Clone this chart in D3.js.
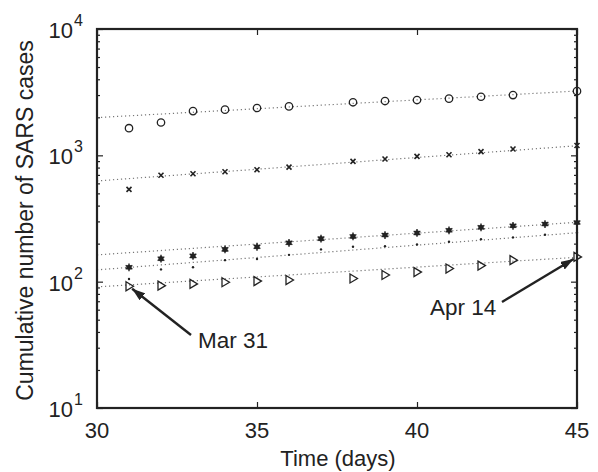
<!DOCTYPE html>
<html>
<head>
<meta charset="utf-8">
<script src="https://cdn.jsdelivr.net/npm/d3@7"></script>
<style>
body{margin:0;background:#fff;}
text{font-family:"Liberation Sans",Arial,sans-serif;fill:#222;}
</style>
</head>
<body>
<svg id="chart" width="598" height="472"></svg>
<script>
// days (x) and cumulative cases (y)
let daysA=[31,32,33,34,35,36,38,39,40,41,42,43,45]
let daysB=[31,32,33,34,35,36,37,38,39,40,41,42,43,44,45]
let circleVals=[1640,1820,2240,2300,2370,2440,2630,2690,2740,2810,2910,3000,3220]
let crossVals=[538,695,715,741,769,807,896,935,982,1011,1069,1122,1195]
let starVals=[130,152,160,180,189,203,219,228,234,243,255,269,277,286,294]
let dotVals=[105,125,130,148,151,163,180,189,191,197,207,217,224,235,244]
let triVals=[92,93,96,99,101,103,106,113,119,127,134,148,157]
// fitted lines, value at day 30 and at day 45
let fitDays=[30,45]
let circleFit=[1990,3228]
let crossFit=[627,1191]
let starFit=[163,295]
let dotFit=[124,244]
let triFit=[91,156]
let xTicks=[30,35,40,45]
let yTicks=[10,100,1000,10000]

let svg=d3.select("#chart")
let pLeft=97,pRight=577,pTop=29,pBottom=408

let x=d3.scaleLinear().domain([30,45]).range([pLeft,pRight])
let y=d3.scaleLog().domain([10,10000]).range([pBottom,pTop])

let minor=[]
for(let d=10;d<10000;d*=10) for(let k=2;k<10;k++) minor.push(d*k)

// ticks, all on the inside
let ax=svg.append("g").attr("class","axes")
ax.append("g").attr("transform","translate(0,"+pBottom+")")
	.call(d3.axisBottom(x).tickValues(xTicks).tickSize(-6).tickFormat(""))
ax.append("g").attr("transform","translate(0,"+pTop+")")
	.call(d3.axisTop(x).tickValues(xTicks).tickSize(-6).tickFormat(""))
ax.append("g").attr("transform","translate("+pLeft+",0)")
	.call(d3.axisLeft(y).tickValues(yTicks).tickSize(-6).tickFormat(""))
ax.append("g").attr("transform","translate("+pLeft+",0)")
	.call(d3.axisLeft(y).tickValues(minor).tickSize(-3).tickFormat(""))
ax.append("g").attr("transform","translate("+pRight+",0)")
	.call(d3.axisRight(y).tickValues(yTicks).tickSize(-6).tickFormat(""))
ax.append("g").attr("transform","translate("+pRight+",0)")
	.call(d3.axisRight(y).tickValues(minor).tickSize(-3).tickFormat(""))
ax.selectAll(".domain").remove()
ax.selectAll("line").attr("stroke","#222").attr("stroke-width",1.2)

// fit lines
let fits=[circleFit,crossFit,starFit,dotFit,triFit]
let line=d3.line().x((d,i)=>x(fitDays[i])).y(d=>y(d))
svg.selectAll(".fit")
	.data(fits)
	.enter().append("path")
	.attr("class","fit")
	.attr("d",d=>line(d))
	.attr("fill","none")
	.attr("stroke","#777")
	.attr("stroke-width",1.2)
	.attr("stroke-dasharray","1.2,2.8")

function pts(days,vals){return days.map((d,i)=>[d,vals[i]])}

svg.selectAll(".circ").data(pts(daysA,circleVals)).enter().append("circle")
	.attr("cx",d=>x(d[0])).attr("cy",d=>y(d[1])).attr("r",3.7)
	.attr("fill","none").attr("stroke","#222").attr("stroke-width",1.3)

svg.selectAll(".cross").data(pts(daysA,crossVals)).enter().append("path")
	.attr("transform",d=>"translate("+x(d[0])+","+y(d[1])+")")
	.attr("d","M-2.5,-2.5L2.5,2.5M-2.5,2.5L2.5,-2.5")
	.attr("stroke","#222").attr("stroke-width",1.6)

svg.selectAll(".star").data(pts(daysB,starVals)).enter().append("g")
	.attr("transform",d=>"translate("+x(d[0])+","+y(d[1])+")")
	.call(g=>g.append("circle").attr("r",2.6).attr("fill","#222"))
	.call(g=>g.append("path").attr("d",d3.symbol(d3.symbolAsterisk,42))
		.attr("stroke","#222").attr("stroke-width",1.4))

svg.selectAll(".dot").data(pts(daysB,dotVals)).enter().append("circle")
	.attr("cx",d=>x(d[0])).attr("cy",d=>y(d[1])).attr("r",1.2)
	.attr("fill","#222")

svg.selectAll(".tri").data(pts(daysA,triVals)).enter().append("path")
	.attr("transform",d=>"translate("+x(d[0])+","+y(d[1])+")")
	.attr("d","M-3,-4.5L4.5,0L-3,4.5Z")
	.attr("fill","none").attr("stroke","#222").attr("stroke-width",1.3)

// frame
svg.append("rect").attr("x",pLeft).attr("y",pTop)
	.attr("width",pRight-pLeft).attr("height",pBottom-pTop)
	.attr("fill","none").attr("stroke","#222").attr("stroke-width",2.2)

// tick labels
svg.selectAll(".xl").data(xTicks).enter().append("text")
	.attr("x",d=>x(d)).attr("y",438).attr("text-anchor","middle")
	.attr("font-size",22).text(d=>d)

let yl=svg.selectAll(".yl").data(yTicks).enter().append("text")
	.attr("x",83).attr("y",d=>y(d)+9).attr("text-anchor","end").attr("font-size",22)
yl.append("tspan").text("10")
yl.append("tspan").attr("dx",1).attr("dy",-12).attr("font-size",16).text(d=>Math.round(Math.log10(d)))

svg.append("text").attr("x",(pLeft+pRight)/2+1).attr("y",466).attr("text-anchor","middle")
	.attr("font-size",22).text("Time (days)")
svg.append("text").attr("transform","translate(33,"+((pTop+pBottom)/2+2)+") rotate(-90)")
	.attr("text-anchor","middle").attr("font-size",23)
	.text("Cumulative number of SARS cases")

// annotations
svg.append("defs").append("marker").attr("id","ah")
	.attr("viewBox","0 0 13 9").attr("refX",13).attr("refY",4.5)
	.attr("markerWidth",13).attr("markerHeight",9).attr("markerUnits","userSpaceOnUse")
	.attr("orient","auto")
	.append("path").attr("d","M0,0L13,4.5L0,9Z").attr("fill","#222")

let notes=[
	{text:"Mar 31",day:31,val:triVals[0],tx:198,ty:348,ax:191,ay:335},
	{text:"Apr 14",day:45,val:triVals[triVals.length-1],tx:430,ty:315,ax:502,ay:302}
]
notes.forEach(n=>{
	let dx=x(n.day)-n.ax,dy=y(n.val)-n.ay,len=Math.sqrt(dx*dx+dy*dy)
	svg.append("line").attr("x1",n.ax).attr("y1",n.ay)
		.attr("x2",n.ax+dx*(len-4)/len).attr("y2",n.ay+dy*(len-4)/len)
		.attr("stroke","#222").attr("stroke-width",2.4).attr("marker-end","url(#ah)")
	svg.append("text").attr("x",n.tx).attr("y",n.ty).attr("font-size",22.5).text(n.text)
})
</script>
</body>
</html>
